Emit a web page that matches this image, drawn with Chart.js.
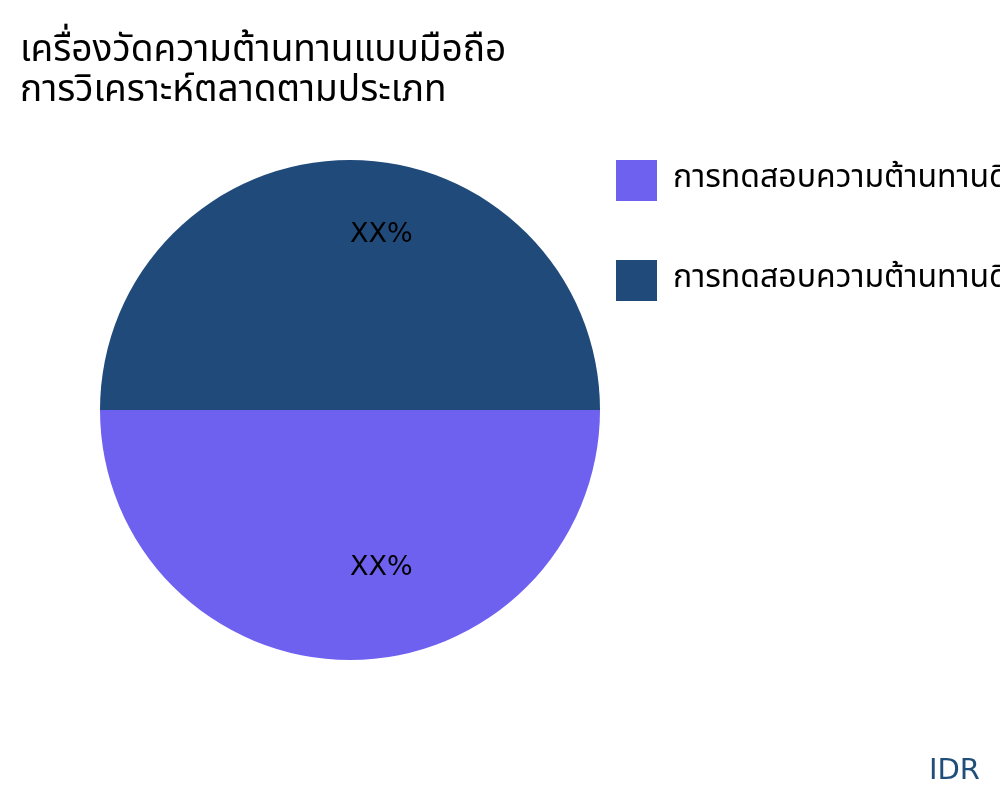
<!DOCTYPE html>
<html lang="en">
<head>
    <meta charset="UTF-8">
    <title>เครื่องวัดความต้านทานแบบมือถือ</title>
    <script src="https://cdn.jsdelivr.net/npm/chart.js"></script>
    <style>
        html, body { margin: 0; padding: 0; background: #fff; overflow: hidden; }
        body { width: 1000px; height: 800px; position: relative; font-family: "DejaVu Sans", sans-serif; }
        #title {
            position: absolute; left: 20px; top: 30px;
            font-family: "Noto Sans Thai", "DejaVu Sans", sans-serif;
            font-size: 37px; line-height: 40px; color: #000; white-space: nowrap;
        }
        #source {
            position: absolute; right: 20px; top: 755px;
            font-size: 29px; line-height: 29px; color: #1f4e79;
        }
        #wrap { position: absolute; left: 0; top: 0; width: 1000px; height: 800px; }
    </style>
</head>
<body>
    <div id="wrap"><canvas id="pieChart"></canvas></div>
    <div id="title">เครื่องวัดความต้านทานแบบมือถือ<br>การวิเคราะห์ตลาดตามประเภท</div>
    <div id="source">IDR</div>

    <script>
        // chart data
        const categories = [
            'การทดสอบความต้านทานดินแบบสองขั้วและสามขั้ว',
            'การทดสอบความต้านทานดินแบบสี่ขั้วและแคลมป์'
        ];
        const shares = [50, 50];
        const sliceLabels = ['XX%', 'XX%'];
        const sliceColors = ['#6f61f0', '#1f4a7a'];

        // where the "XX%" text sits along each slice's middle angle (fraction of radius)
        const labelRadius = [0.63, 0.70];

        const sliceText = {
            id: 'sliceText',
            afterDatasetsDraw(chart) {
                const ctx = chart.ctx;
                const arcs = chart.getDatasetMeta(0).data;
                ctx.save();
                ctx.font = '27px "DejaVu Sans", sans-serif';
                ctx.fillStyle = '#000';
                ctx.textAlign = 'left';
                ctx.textBaseline = 'middle';
                arcs.forEach((arc, i) => {
                    const p = arc.getProps(['x', 'y', 'startAngle', 'endAngle', 'outerRadius'], true);
                    const mid = (p.startAngle + p.endAngle) / 2;
                    const r = p.outerRadius * labelRadius[i];
                    ctx.fillText(sliceLabels[i], p.x + Math.cos(mid) * r, p.y + Math.sin(mid) * r);
                });
                ctx.restore();
            }
        };

        new Chart(document.getElementById('pieChart'), {
            type: 'pie',
            data: {
                labels: categories,
                datasets: [{
                    data: shares,
                    backgroundColor: sliceColors,
                    borderWidth: 0,
                    radius: 250,
                    clip: false
                }]
            },
            options: {
                responsive: true,
                maintainAspectRatio: false,
                animation: false,
                rotation: 90,
                layout: {
                    padding: { left: 143, right: 0, top: 101, bottom: 81 }
                },
                plugins: {
                    title: { display: false },
                    tooltip: { enabled: false },
                    legend: {
                        position: 'right',
                        align: 'start',
                        maxWidth: 443,
                        labels: {
                            boxWidth: 41,
                            boxHeight: 41,
                            padding: 59,
                            color: '#000',
                            font: { family: '"Noto Sans Thai", "DejaVu Sans", sans-serif', size: 32 }
                        }
                    }
                }
            },
            plugins: [sliceText]
        });
    </script>
</body>
</html>
